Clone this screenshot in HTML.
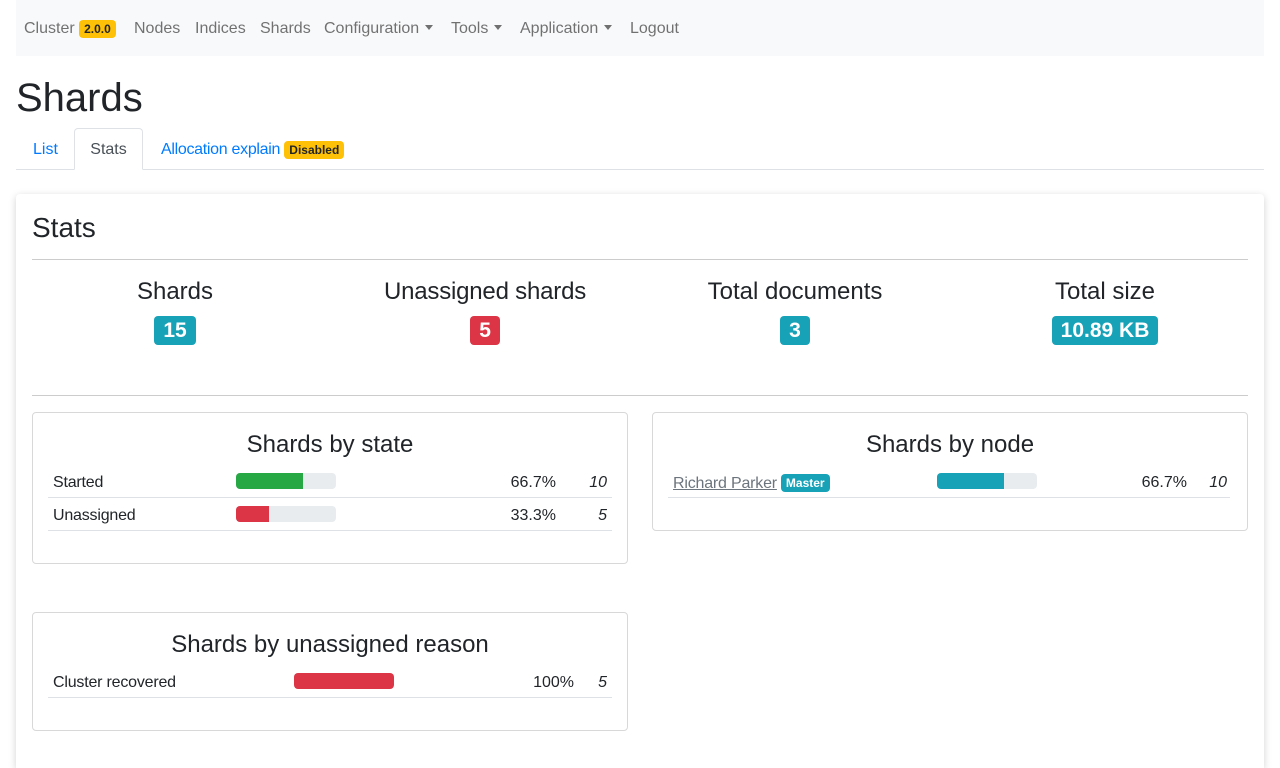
<!DOCTYPE html>
<html><head><meta charset="utf-8">
<style>
*{box-sizing:border-box;margin:0;padding:0}
html,body{width:1280px;height:768px;overflow:hidden}
body{background:#fff;font-family:"Liberation Sans",sans-serif;color:#212529;position:relative}
.a{position:absolute;white-space:nowrap}
.nav{left:16px;top:0;width:1248px;height:56px;background:#f8f9fa}
.ni{top:20px;font-size:16px;color:rgba(0,0,0,.55)}
.caret{display:inline-block;width:0;height:0;border-left:4px solid transparent;border-right:4px solid transparent;border-top:5px solid rgba(0,0,0,.55);vertical-align:3px;margin-left:6px}
.bw{background:#ffc107;color:#212529;font-weight:bold;font-size:12px;border-radius:4px;padding:2px 5px}
.card{left:16px;top:194px;width:1248px;height:574px;box-shadow:0 2px 8px rgba(0,0,0,.18);border-radius:4px 4px 0 0;background:#fff}
.hr{height:1px;background:#ccc}
.st{font-size:24px;text-align:center;width:312px;font-weight:500}
.big{font-size:21px;font-weight:bold;color:#fff;border-radius:4px;padding:3px 9px;line-height:25px}
.panel{border:1px solid #d8d8d8;border-radius:4px}
.pt{font-size:24px;text-align:center;font-weight:500}
.line{height:1px;background:#dee2e6}
.bar{height:16px;background:#e9ecef;border-radius:4px;overflow:hidden}
.fill{height:16px}
</style></head><body>
<div class="a nav"></div>
<div class="a ni" style="left:24px">Cluster <span class="bw">2.0.0</span></div>
<div class="a ni" style="left:134px">Nodes</div>
<div class="a ni" style="left:195px">Indices</div>
<div class="a ni" style="left:260px">Shards</div>
<div class="a ni" style="left:324px">Configuration<span class="caret"></span></div>
<div class="a ni" style="left:451px">Tools<span class="caret"></span></div>
<div class="a ni" style="left:520px">Application<span class="caret"></span></div>
<div class="a ni" style="left:630px">Logout</div>

<div class="a" style="left:16px;top:76px;font-size:40px;font-weight:500">Shards</div>
<div class="a line" style="left:16px;top:169px;width:1248px"></div>
<div class="a" style="left:33px;top:141px;font-size:16px;color:#007bff">List</div>
<div class="a" style="left:74px;top:128px;width:69px;height:42px;border:1px solid #dee2e6;border-bottom:1px solid #fff;border-radius:4px 4px 0 0;background:#fff;font-size:16px;color:#495057;text-align:center;padding-top:12px">Stats</div>
<div class="a" style="left:161px;top:141px;font-size:16px;color:#007bff;letter-spacing:-0.3px">Allocation explain <span class="bw" style="letter-spacing:0">Disabled</span></div>

<div class="a card"></div>
<div class="a" style="left:32px;top:212px;font-size:28px;font-weight:500">Stats</div>
<div class="a hr" style="left:32px;top:259px;width:1216px"></div>

<div class="a st" style="left:19px;top:278px">Shards<br><span class="big" style="background:#17a2b8;position:relative;top:10px">15</span></div>
<div class="a st" style="left:329px;top:278px;letter-spacing:-0.2px">Unassigned shards<br><span class="big" style="background:#dc3545;position:relative;top:10px">5</span></div>
<div class="a st" style="left:639px;top:278px">Total documents<br><span class="big" style="background:#17a2b8;position:relative;top:10px">3</span></div>
<div class="a st" style="left:949px;top:278px">Total size<br><span class="big" style="background:#17a2b8;position:relative;top:10px">10.89 KB</span></div>
<div class="a hr" style="left:32px;top:395px;width:1216px"></div>

<div class="a panel" style="left:32px;top:412px;width:596px;height:152px"></div>
<div class="a pt" style="left:32px;top:431px;width:596px">Shards by state</div>
<div class="a panel" style="left:652px;top:412px;width:596px;height:119px"></div>
<div class="a pt" style="left:652px;top:431px;width:596px">Shards by node</div>
<div class="a panel" style="left:32px;top:612px;width:596px;height:119px"></div>
<div class="a pt" style="left:32px;top:631px;width:596px">Shards by unassigned reason</div>

<div id="rows"></div>
<script>
const stateLabels=["Started","Unassigned"];
const stateCounts=[10,5];
const stateColors=["#28a745","#dc3545"];
const nodeLabels=["Richard Parker"];
const nodeCounts=[10];
const reasonLabels=["Cluster recovered"];
const reasonCounts=[5];
const totalShards=15;
const root=document.getElementById('rows');
function mk(css,txt,cls){const d=document.createElement('div');d.className='a '+(cls||'');d.style.cssText=css;if(txt!==undefined)d.innerHTML=txt;root.appendChild(d);return d;}
function fmt(p){return (Math.round(p*10)/10)+'%';}
function table(labels,counts,colors,total,o){
  labels.forEach((lab,i)=>{
    const y=o.top+i*33;
    const pct=counts[i]/total*100;
    const l=mk(`left:${o.left+21}px;top:${y+9}px;font-size:16px;letter-spacing:-0.2px;`+(o.link?'color:#6c757d;text-decoration:underline;':''),lab);
    
    
    if(o.link){const b=document.createElement('span');b.textContent='Master';b.style.cssText='background:#17a2b8;color:#fff;font-size:12px;font-weight:bold;border-radius:4px;padding:2px 5px;margin-left:4px;display:inline-block;text-decoration:none;vertical-align:1px;letter-spacing:0';l.appendChild(b);}
    const bar=mk(`left:${o.bar}px;top:${y+8}px;width:100px;`,'','bar');
    
    
    const f=document.createElement('div');f.className='fill';f.style.width=pct+'px';f.style.background=colors[i];bar.appendChild(f);
    const p=mk(`right:${1280-o.pctR}px;top:${y+9}px;font-size:16px`,fmt(pct));
    
    
    const c=mk(`right:${1280-o.cntR}px;top:${y+9}px;font-size:16px;font-style:italic`,counts[i]);
    
    
    const ln=mk(`left:${o.left+16}px;top:${y+32}px;width:${o.w}px`,'','line');
    
    
  });
}
table(stateLabels,stateCounts,stateColors,totalShards,{left:32,top:465,bar:236,pctR:556,cntR:607,w:564});
table(nodeLabels,nodeCounts,["#17a2b8"],totalShards,{left:652,top:465,bar:937,pctR:1187,cntR:1227,w:562,link:true});
table(reasonLabels,reasonCounts,["#dc3545"],reasonCounts.reduce((a,b)=>a+b,0),{left:32,top:665,bar:294,pctR:574,cntR:607,w:564});
</script>
</body></html>
